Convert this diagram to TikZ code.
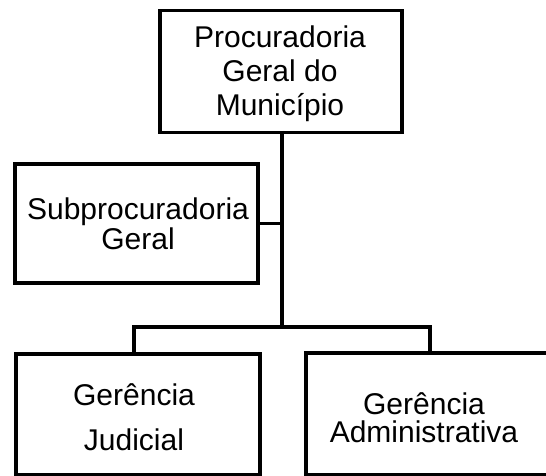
\documentclass[tikz,border=0pt]{standalone}
\usepackage{fontspec}
\setmainfont{Liberation Sans}
\begin{document}
\begin{tikzpicture}[x=1pt,y=-1pt,
  box/.style={draw,line width=3.5pt,rectangle,inner sep=0pt,anchor=north west},
  lbl/.style={anchor=base,inner sep=0pt,font=\fontsize{30}{34}\selectfont},
  link/.style={line width=3.5pt}]
\useasboundingbox (0,0) rectangle (546,476);
\clip (0,0) rectangle (546,476);
% boxes
\node[box,minimum width=242pt,minimum height=122pt] (pgm) at (158,9) {};
\node[box,minimum width=243pt,minimum height=119pt] (sub) at (13,162) {};
\node[box,minimum width=244pt,minimum height=121pt] (jud) at (14,352) {};
\node[box,minimum width=250pt,minimum height=122pt] (adm) at (304,351) {};
% texts
\node[lbl] (t1) at (280,48) {Procuradoria};
\node[lbl] (t2) at (280,82) {Geral do};
\node[lbl] (t3) at (280,116) {Município};
\node[lbl] (t4) at (138,219) {Subprocuradoria};
\node[lbl] (t5) at (138,249) {Geral};
\node[lbl] (t6) at (134,405) {Gerência};
\node[lbl] (t7) at (134,450) {Judicial};
\node[lbl] (t8) at (424,414) {Gerência};
\node[lbl] (t9) at (424,442) {Administrativa};
% connectors
\coordinate (top) at (282,131);
\coordinate (junc) at (282,327);
\coordinate (barL) at (134,327);
\coordinate (barR) at (430,327);
\coordinate (dropL) at (134,352);
\coordinate (dropR) at (430,351);
\draw[link] (top) -- (junc);
\draw[link] (sub.east) -- (sub.east -| junc);
\draw[link] (dropL) -- (barL) -- (barR) -- (dropR);
\end{tikzpicture}
\end{document}
